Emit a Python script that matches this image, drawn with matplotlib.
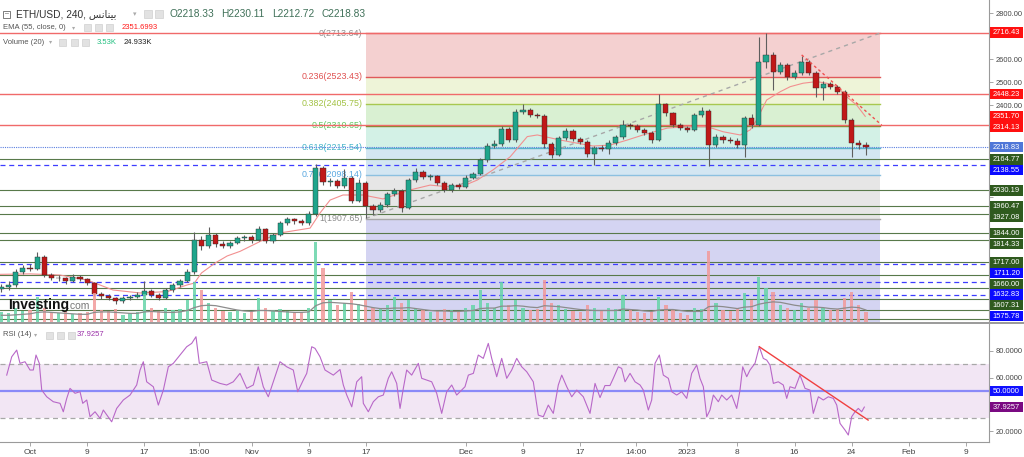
import numpy as np
import matplotlib
matplotlib.use("Agg")
import matplotlib.pyplot as plt
from matplotlib.patches import Rectangle
from matplotlib.ticker import FuncFormatter
import matplotlib.transforms as mtransforms

plt.rcParams['font.family'] = ['Liberation Sans', 'DejaVu Sans']

# ---------------- data ----------------
first_day = -4          # Sep 27 (day 0 = Oct 1)
first_open = 1600
closes = [1610, 1619, 1676, 1692,
          1688, 1740, 1662, 1649, 1649, 1636, 1653, 1645, 1627, 1580,
          1569, 1562, 1549, 1560, 1566, 1575, 1592, 1575, 1562, 1597,
          1619, 1636, 1675, 1814, 1788, 1836, 1797, 1788, 1801, 1823,
          1827, 1814, 1862, 1810, 1836, 1888, 1905, 1897, 1888, 1927,
          2127, 2066, 2071, 2049, 2084, 1984, 2062, 1962, 1945, 1966,
          2014, 2027, 1953, 2075, 2110, 2088, 2092, 2062, 2032, 2053,
          2045, 2084, 2101, 2162, 2223, 2232, 2297, 2249, 2371, 2380,
          2358, 2353, 2232, 2184, 2258, 2288, 2253, 2240, 2188, 2214,
          2210, 2236, 2262, 2314, 2310, 2293, 2280, 2249, 2405, 2366,
          2314, 2301, 2293, 2358, 2375, 2227, 2262, 2249, 2244, 2227,
          2345, 2314, 2588, 2618, 2545, 2575, 2523, 2540, 2588, 2540,
          2475, 2492, 2480, 2458, 2336, 2236, 2227, 2219]
highs = [1625, 1635, 1690, 1705,
         1710, 1760, 1748, 1672, 1662, 1655, 1668, 1660, 1650, 1632,
         1588, 1578, 1568, 1570, 1576, 1588, 1635, 1600, 1582, 1606,
         1628, 1645, 1690, 1850, 1830, 1870, 1845, 1808, 1812, 1832,
         1838, 1835, 1875, 1868, 1846, 1898, 1915, 1912, 1905, 1940,
         2145, 2135, 2085, 2080, 2125, 2092, 2080, 2070, 1972, 1978,
         2025, 2040, 2035, 2085, 2128, 2118, 2100, 2095, 2070, 2062,
         2062, 2095, 2112, 2172, 2235, 2248, 2310, 2305, 2382, 2405,
         2390, 2368, 2360, 2240, 2268, 2300, 2295, 2262, 2248, 2225,
         2228, 2248, 2272, 2335, 2325, 2318, 2300, 2288, 2448, 2412,
         2372, 2322, 2310, 2366, 2392, 2382, 2275, 2270, 2260, 2258,
         2355, 2360, 2698, 2713, 2630, 2590, 2582, 2555, 2614, 2595,
         2548, 2505, 2500, 2490, 2465, 2345, 2250, 2240]
lows = [1590, 1598, 1612, 1668,
        1680, 1685, 1655, 1640, 1638, 1625, 1630, 1636, 1618, 1572,
        1558, 1552, 1538, 1542, 1553, 1560, 1570, 1566, 1552, 1556,
        1590, 1612, 1630, 1668, 1770, 1780, 1785, 1778, 1780, 1795,
        1812, 1802, 1808, 1800, 1802, 1830, 1880, 1885, 1878, 1880,
        1920, 2055, 2050, 2040, 2042, 1975, 1978, 1908, 1925, 1935,
        1958, 2005, 1935, 1948, 2068, 2078, 2075, 2052, 2022, 2025,
        2035, 2040, 2078, 2095, 2155, 2215, 2225, 2240, 2242, 2362,
        2350, 2345, 2215, 2172, 2178, 2250, 2245, 2230, 2175, 2140,
        2200, 2190, 2228, 2255, 2298, 2285, 2270, 2235, 2245, 2355,
        2305, 2292, 2285, 2288, 2350, 2135, 2218, 2238, 2236, 2215,
        2176, 2300, 2308, 2560, 2466, 2535, 2510, 2515, 2532, 2530,
        2437, 2423, 2470, 2448, 2325, 2176, 2210, 2184]
volume_k = [20, 18, 30, 22,
            25, 52, 30, 20, 18, 22, 16, 18, 20, 60,
            25, 22, 28, 15, 18, 20, 58, 30, 22, 30,
            25, 28, 45, 84, 67, 40, 30, 22, 20, 25,
            18, 22, 50, 30, 25, 28, 22, 18, 20, 30,
            167, 112, 45, 35, 40, 63, 38, 45, 30, 28,
            35, 52, 40, 45, 30, 25, 20, 22, 28, 24,
            20, 30, 35, 67, 40, 30, 84, 35, 45, 30,
            25, 28, 88, 40, 35, 28, 22, 20, 35, 30,
            25, 30, 28, 56, 25, 20, 18, 22, 52, 35,
            25, 18, 15, 30, 28, 148, 40, 25, 22, 30,
            60, 45, 94, 70, 63, 35, 30, 25, 40, 30,
            45, 30, 25, 28, 50, 63, 35, 20]
volume_ma_k = [14, 14, 15, 16,
               17, 20, 21, 20, 19, 18, 17, 16, 16, 20,
               21, 21, 20, 19, 18, 18, 21, 22, 21, 20,
               20, 21, 24, 30, 34, 35, 34, 31, 28, 25,
               23, 22, 24, 24, 23, 22, 21, 20, 20, 21,
               34, 40, 41, 40, 39, 38, 36, 33, 30, 28,
               28, 29, 29, 30, 28, 26, 24, 23, 23, 22,
               22, 23, 24, 28, 29, 29, 33, 33, 34, 33,
               31, 30, 34, 33, 32, 30, 28, 26, 25, 24,
               24, 24, 24, 27, 26, 25, 23, 22, 25, 26,
               26, 24, 22, 22, 22, 32, 33, 32, 30, 28,
               31, 32, 37, 40, 42, 41, 38, 35, 33, 31,
               31, 30, 28, 27, 29, 31, 30, 25]

ema_days = [-4.2, 0, 4.2, 8, 11.6, 15.4, 19.2, 22, 23, 24, 25.9, 27.6, 29.4, 32.6,
            35, 39.2, 40.6, 42, 43.8, 46.6, 49.4, 53.2, 56, 58.4, 60.6, 62.6,
            64.8, 67.2, 69.6, 71, 74.2, 76.6, 78.8, 81.2, 83.6, 85.8, 89.2, 92,
            94.8, 97, 99.4, 100.8, 101.7, 103.1, 105, 106.4, 108.2, 110.1, 111.5,
            113, 114.3, 115.7, 116.9]
ema_vals = [1665, 1667, 1662, 1640, 1597, 1584, 1590, 1619, 1627, 1671, 1714, 1745, 1765, 1814,
            1845, 1866, 1932, 1988, 2010, 2010, 1993, 2032, 2053, 2046, 2049, 2075,
            2119, 2176, 2264, 2271, 2249, 2235, 2223, 2227, 2249, 2271, 2301, 2307,
            2307, 2285, 2271, 2293, 2336, 2423, 2459, 2481, 2496, 2503, 2496,
            2481, 2437, 2401, 2352]

rsi_days = [-3.26, -2.56, -1.86, -1.40, -0.70, 0.0, 0.46, 0.84, 1.30, 1.64,
            2.34, 3.26, 4.20, 4.66, 5.14, 5.60, 6.30, 7.00, 7.38, 7.94,
            8.40, 9.10, 9.80, 10.26, 11.43, 12.13, 13.06, 14.00, 14.93, 15.40,
            15.86, 16.33, 17.26, 17.96, 18.66, 19.36, 20.06, 21.00, 21.93, 22.63,
            23.23, 23.70, 24.73, 25.43, 26.59, 27.53, 28.45, 29.39, 30.33, 31.25,
            31.95, 32.65, 33.35, 34.05, 34.99, 35.93, 36.85, 37.47, 38.25, 38.73,
            39.43, 39.89, 40.59, 41.29, 42.45, 43.39, 43.85, 44.33, 45.03, 45.73,
            46.42, 46.65, 47.35, 48.05, 48.75, 49.45, 50.15, 50.62, 51.32, 51.79,
            52.25, 52.72, 53.42, 54.35, 54.82, 55.52, 56.22, 56.92, 57.62, 58.32,
            59.02, 59.72, 60.42, 60.88, 61.35, 62.05, 62.74, 63.44, 64.14, 64.62,
            65.32, 66.02, 66.72, 67.42, 68.12, 68.82, 69.52, 70.44, 71.14, 71.84,
            72.54, 73.24, 73.94, 74.42, 75.12, 75.82, 76.52, 77.44, 78.38, 79.08,
            79.78, 80.47, 81.17, 81.64, 82.34, 82.81, 83.28, 83.98, 84.68, 85.38,
            85.84, 86.54, 87.01, 87.48, 88.08, 88.64, 89.34, 89.81, 90.51, 91.21,
            91.91, 92.61, 93.31, 93.77, 94.24, 94.71, 95.17, 95.64, 96.34, 96.81,
            97.51, 98.21, 98.91, 99.37, 99.75, 100.31, 100.77, 101.47, 102.07, 102.63,
            103.11, 103.57, 104.04, 104.73, 105.43, 105.91, 106.37, 107.07, 107.77, 108.47,
            109.17, 109.63, 110.34, 111.03, 111.73, 112.43, 112.91, 113.37, 114.07, 114.53,
            115.00, 115.47, 115.93, 116.40, 116.77]
rsi_vals = [61.8, 75.5, 80.5, 70.6, 71.8, 65.6, 65.6, 76.8, 70.6, 50.6,
            45.6, 41.9, 40.7, 34.4, 44.4, 51.9, 48.2, 49.4, 40.7, 43.2,
            30.7, 34.4, 29.5, 35.7, 26.9, 36.9, 43.2, 46.9, 54.4, 65.6,
            71.8, 56.8, 53.1, 39.4, 50.6, 68.0, 70.6, 76.8, 83.0, 85.5,
            90.5, 70.6, 71.8, 58.1, 55.6, 54.4, 56.8, 63.1, 51.9, 54.4,
            68.0, 53.1, 45.6, 56.8, 71.8, 68.0, 65.6, 49.4, 58.1, 63.1,
            83.0, 81.8, 75.5, 65.6, 61.8, 66.0, 54.4, 46.9, 38.1, 56.8,
            60.6, 40.7, 34.4, 41.9, 45.6, 46.9, 59.4, 64.3, 55.6, 36.9,
            51.9, 65.6, 61.8, 70.6, 59.4, 58.1, 56.8, 48.2, 33.2, 49.4,
            54.4, 46.9, 50.6, 53.1, 61.8, 63.1, 76.8, 74.3, 85.5, 74.3,
            60.6, 74.3, 59.4, 65.6, 74.3, 68.0, 64.3, 56.8, 31.9, 30.7,
            39.4, 33.2, 54.4, 61.8, 53.1, 45.6, 50.6, 45.6, 33.2, 55.6,
            45.0, 54.0, 54.0, 59.4, 68.0, 66.8, 56.8, 63.1, 56.8, 54.4,
            50.6, 35.7, 43.2, 70.6, 76.8, 61.8, 59.4, 49.4, 46.9, 49.4,
            44.4, 63.1, 69.3, 59.4, 53.1, 30.7, 35.7, 46.9, 41.9, 46.9,
            43.2, 46.9, 36.9, 50.6, 68.0, 60.6, 65.6, 70.6, 83.0, 74.3,
            73.0, 69.3, 55.6, 56.8, 54.4, 44.4, 53.1, 51.9, 61.8, 51.9,
            50.6, 33.2, 45.6, 43.2, 45.6, 44.4, 39.4, 25.7, 20.7, 17.0,
            30.7, 34.4, 36.9, 34.4, 37.9]

fib_ratios = ["0", "0.236", "0.382", "0.5", "0.618", "0.786", "1"]
fib_prices = [2713.64, 2523.43, 2405.75, 2310.65, 2215.54, 2098.14, 1907.65]
fib_span_days = (47.0, 118.95)

red_levels = [2716.43, 2448.23, 2314.13]
green_levels = [2164.77, 2030.19, 1960.47, 1927.08, 1844.00, 1814.33, 1717.00,
                1660.00, 1607.31]
green_unlabeled = [1558, 1510, 1471]
blue_levels = [2138.55, 1711.20, 1632.83, 1575.78]
last_price = 2218.83
ema_last = 2351.70
rsi_last = 37.9257

price_trend = ([108.0, 119.2], [2619, 2314])
rsi_trend = ([102.07, 117.3], [83.0, 28.2])

price_ticks = [1500, 1600, 1700, 1800, 1900, 2000, 2100, 2200, 2300, 2400, 2500,
               2600, 2700, 2800]
rsi_ticks = [20, 40, 60, 80]
date_ticks = [0, 8, 16, 23.6, 31, 39, 47, 61, 69, 77, 84.8, 92, 99, 107, 115, 123, 131]
date_labels = ['Oct', '9', '17', '15:00', 'Nov', '9', '17', 'Dec', '9', '17', '14:00',
               '2023', '8', '16', '24', 'Feb', '9']

# ---------------- figure ----------------
W, H = 1024, 457
fig = plt.figure(figsize=(W / 100, H / 100), dpi=100)
fig.patch.set_facecolor('white')

XL = (-4.2, 134.22)
ax = fig.add_axes([0, 135 / H, 989 / W, 322 / H])
ax.set_xlim(*XL)
ax.set_ylim(1457.8, 2857.8)
vax = fig.add_axes([0, 135 / H, 989 / W, 322 / H])
vax.set_xlim(*XL)
vax.set_ylim(0, 671)
vax.patch.set_alpha(0)
vax.axis('off')
rax = fig.add_axes([0, 15 / H, 989 / W, 118 / H])
rax.set_xlim(*XL)
rax.set_ylim(11.8, 100)

days = np.arange(first_day, first_day + len(closes))
closes_a = np.array(closes, float)
opens_a = np.array([first_open] + closes[:-1], float)
highs_a = np.array(highs, float)
lows_a = np.array(lows, float)
up = closes_a >= opens_a

# fib fills / lines
fx0, fx1 = fib_span_days
fill_cols = ['#f4d0d0', '#eef4d8', '#d9f0d2', '#d3f1e6', '#d3e6f2', '#e6e6e6']
line_cols = ['#e07070', '#e05a5a', '#a8c850', '#7f8a2a', '#5ab4c8', '#8cc0e0', '#a8a8a8']
lab_cols = ['#8c8c8c', '#e05050', '#a2c244', '#5cc85c', '#44b4c8', '#5aa8e0', '#8c8c8c']
for i in range(len(fib_prices) - 1):
    ax.fill_between([fx0, fx1], fib_prices[i + 1], fib_prices[i], color=fill_cols[i],
                    lw=0, zorder=0.5)
ax.fill_between([fx0, fx1], 1457.8, fib_prices[-1], color='#d4d4f2', lw=0, zorder=0.5)
for i, p in enumerate(fib_prices):
    ax.plot([fx0, fx1], [p, p], color=line_cols[i], lw=1.0, zorder=0.8)
    ax.text(fx0 - 0.5, p, f"{fib_ratios[i]}({p:.2f})", ha='right', va='center',
            fontsize=6.4, color=lab_cols[i], zorder=0.9)
ax.plot([fx0, fx1], [fib_prices[-1], fib_prices[0]], color='#a8a8a8', lw=1,
        ls=(0, (3, 3)), zorder=3)

# horizontal lines
for p in green_levels + green_unlabeled:
    ax.axhline(p, color='#58794a', lw=0.8, zorder=1.5)
for p in blue_levels:
    ax.axhline(p, color='#3d3dff', lw=0.9, ls=(0, (4, 3)), zorder=1.5)
for p in red_levels:
    ax.axhline(p, color='#f06a6a', lw=1.0, zorder=1.5)
ax.axhline(last_price, color='#5a7fe0', lw=0.8, ls=(0, (1, 1)), zorder=1.5)

# EMA
ax.plot(ema_days, ema_vals, color='#f29090', lw=0.8, zorder=2)

# candles
ax.vlines(days, lows_a, highs_a, color='#5e5e5e', lw=0.8, zorder=3)
ax.bar(days, closes_a - opens_a, bottom=opens_a, width=0.72,
       color=np.where(up, '#1fa58c', '#c01818'), edgecolor='#2a2a2a', lw=0.3, zorder=4)

# main red dashed trend
ax.plot(*price_trend, color='#f05050', lw=1.0, ls=(0, (2, 2)), zorder=5)

# volume
vax.bar(days, volume_k, width=0.45, color=np.where(up, '#66d4a8', '#f29a9a'),
        alpha=0.85, lw=0)
vax.plot(days, volume_ma_k, color='#8c8c8c', lw=0.9)

# ---------------- right-hand price boxes (positions) ----------------
items = [(p, 'red') for p in red_levels] + [(ema_last, 'ema')] + \
        [(last_price, 'last')] + [(p, 'green') for p in green_levels] + \
        [(p, 'blue') for p in blue_levels]
items.sort(key=lambda t: -t[0])
colmap = {'red': '#ff1010', 'ema': '#ff1010', 'last': '#4f77d8',
          'green': '#2f5a1e', 'blue': '#0a0aff'}
box_list = []
prev = None
for p, kind in items:
    y = ax.transData.transform((0, p))[1]
    if prev is not None and y > prev - 10.7:
        y = prev - 10.7
    prev = y
    box_list.append((y, f"{p:.2f}", colmap[kind]))
rsi_boxes = [(rax.transData.transform((0, 50))[1], "50.0000", '#1010ff'),
             (rax.transData.transform((0, rsi_last))[1], f"{rsi_last:.4f}", '#7a0a82')]


def hidden_by_box(axis, value, boxes):
    y = axis.transData.transform((0, value))[1]
    return any(abs(y - by) < 9.5 for by, _, _ in boxes)


def make_fmt(axis, boxes, fmt):
    return FuncFormatter(lambda v, pos: '' if hidden_by_box(axis, v, boxes) else fmt % v)


# main axis styling
for s in ['top', 'left', 'bottom']:
    ax.spines[s].set_visible(False)
ax.spines['right'].set_color('#9a9a9a')
ax.yaxis.tick_right()
ax.set_yticks(price_ticks)
ax.yaxis.set_major_formatter(make_fmt(ax, box_list, '%.2f'))
ax.tick_params(axis='y', labelsize=5.4, labelcolor='#444444', color='#999999',
               length=3, width=0.6, pad=1.5)
ax.set_xticks([])

# RSI panel
rax.axhspan(30, 70, color='#f2e6f4', lw=0, zorder=0)
rax.axhline(70, color='#a8a8a8', lw=0.9, ls=(0, (4, 3)), zorder=1)
rax.axhline(30, color='#a8a8a8', lw=0.9, ls=(0, (4, 3)), zorder=1)
rax.axhline(50, color='#8a8af8', lw=1.6, zorder=1)
rax.plot(rsi_days, rsi_vals, color='#b868c8', lw=0.8, zorder=2)
rax.plot(*rsi_trend, color='#f04040', lw=1.0, zorder=3)
for s in ['top', 'left']:
    rax.spines[s].set_visible(False)
rax.spines['right'].set_color('#9a9a9a')
rax.spines['bottom'].set_color('#9a9a9a')
rax.yaxis.tick_right()
rax.set_yticks(rsi_ticks)
rax.yaxis.set_major_formatter(make_fmt(rax, rsi_boxes, '%.4f'))
rax.tick_params(axis='y', labelsize=5.4, labelcolor='#444444', color='#999999',
                length=3, width=0.6, pad=1.5)
rax.set_xticks(date_ticks)
rax.set_xticklabels(date_labels)
rax.tick_params(axis='x', labelsize=6, labelcolor='#444444', color='#999999',
                length=3, width=0.6, pad=2)

# panel separator
fig.add_artist(Rectangle((0, 1 - 324 / H), 1, 2 / H, transform=fig.transFigure,
                         color='#9c9c9c', lw=0, zorder=6))

ident = mtransforms.IdentityTransform()


def box(ypx, text, color, tcolor='white'):
    fig.add_artist(Rectangle((990, ypx - 5.2), 33, 10.4, transform=ident,
                             facecolor=color, lw=0, zorder=8))
    fig.text(1006.5, ypx - 0.3, text, transform=ident, ha='center', va='center',
             fontsize=5.4, color=tcolor, zorder=9)


for y, t, c in box_list + rsi_boxes:
    box(y, t, c)

# ---------------- header texts ----------------
def ty(px_from_top):
    return H - px_from_top


def icon(x, y, size=8):
    fig.add_artist(Rectangle((x, ty(y) - size / 2), size, size, transform=ident,
                             facecolor='#e2e2e2', edgecolor='#d0d0d0', lw=0.5, zorder=8))


fig.add_artist(Rectangle((3, ty(14) - 3.5), 7, 7, transform=ident, facecolor='white',
                         edgecolor='#666666', lw=0.6, zorder=8))
fig.text(6.5, ty(14), '\u2013', transform=ident, ha='center', va='center', fontsize=5,
         color='#555555', zorder=9)
arabic = '\uFEB2\uFEE7\uFE8E\uFEE8\uFEF4\uFE91'
fig.text(16, ty(14), 'ETH/USD, 240, ' + arabic, transform=ident, va='center',
         fontsize=7.3, color='#333333', zorder=9)
fig.text(133, ty(14), '\u25BE', transform=ident, va='center', fontsize=5,
         color='#aaaaaa', family='DejaVu Sans', zorder=9)
icon(144, 14)
icon(155, 14)
for x, s in zip([170, 221, 272, 321], ['O2218.33', 'H2230.11', 'L2212.72', 'C2218.83']):
    fig.text(x, ty(14), s, transform=ident, va='center', fontsize=7.3,
             color='#3f7058', zorder=9)

fig.text(3, ty(27.5), 'EMA (55, close, 0)', transform=ident, va='center', fontsize=5.5,
         color='#555555', zorder=9)
fig.text(72, ty(27.5), '\u25BE', transform=ident, va='center', fontsize=4.5,
         color='#aaaaaa', family='DejaVu Sans', zorder=9)
for x in [84, 95, 106]:
    icon(x, 27.5, 7)
fig.text(122, ty(27.5), '2351.6993', transform=ident, va='center', fontsize=5.5,
         color='#ff1a1a', zorder=9)

fig.text(3, ty(42), 'Volume (20)', transform=ident, va='center', fontsize=5.5,
         color='#555555', zorder=9)
fig.text(49, ty(42), '\u25BE', transform=ident, va='center', fontsize=4.5,
         color='#aaaaaa', family='DejaVu Sans', zorder=9)
for x in [59, 71, 82]:
    icon(x, 42, 7)
fig.text(97, ty(42), '3.53K', transform=ident, va='center', fontsize=5.5,
         color='#1fbf7f', zorder=9)
fig.text(124, ty(42), '24.933K', transform=ident, va='center', fontsize=5.5,
         color='#222222', zorder=9)

# RSI header
fig.text(3, ty(335), 'RSI (14)', transform=ident, va='center', fontsize=5.5,
         color='#555555', zorder=9)
fig.text(34, ty(335), '\u25BE', transform=ident, va='center', fontsize=4.5,
         color='#aaaaaa', family='DejaVu Sans', zorder=9)
for x in [46, 57, 68]:
    icon(x, 335, 7)
fig.text(77, ty(335), '37.9257', transform=ident, va='center', fontsize=5.5,
         color='#9a2fa8', zorder=9)

# Investing.com logo
fig.text(8, ty(309), 'Investing', transform=ident, va='baseline', fontsize=10,
         fontweight='bold', color='#111111', zorder=9)
fig.text(67, ty(309), '.com', transform=ident, va='baseline', fontsize=7.5,
         color='#777777', zorder=9)

fig.savefig('out.png', dpi=100)
